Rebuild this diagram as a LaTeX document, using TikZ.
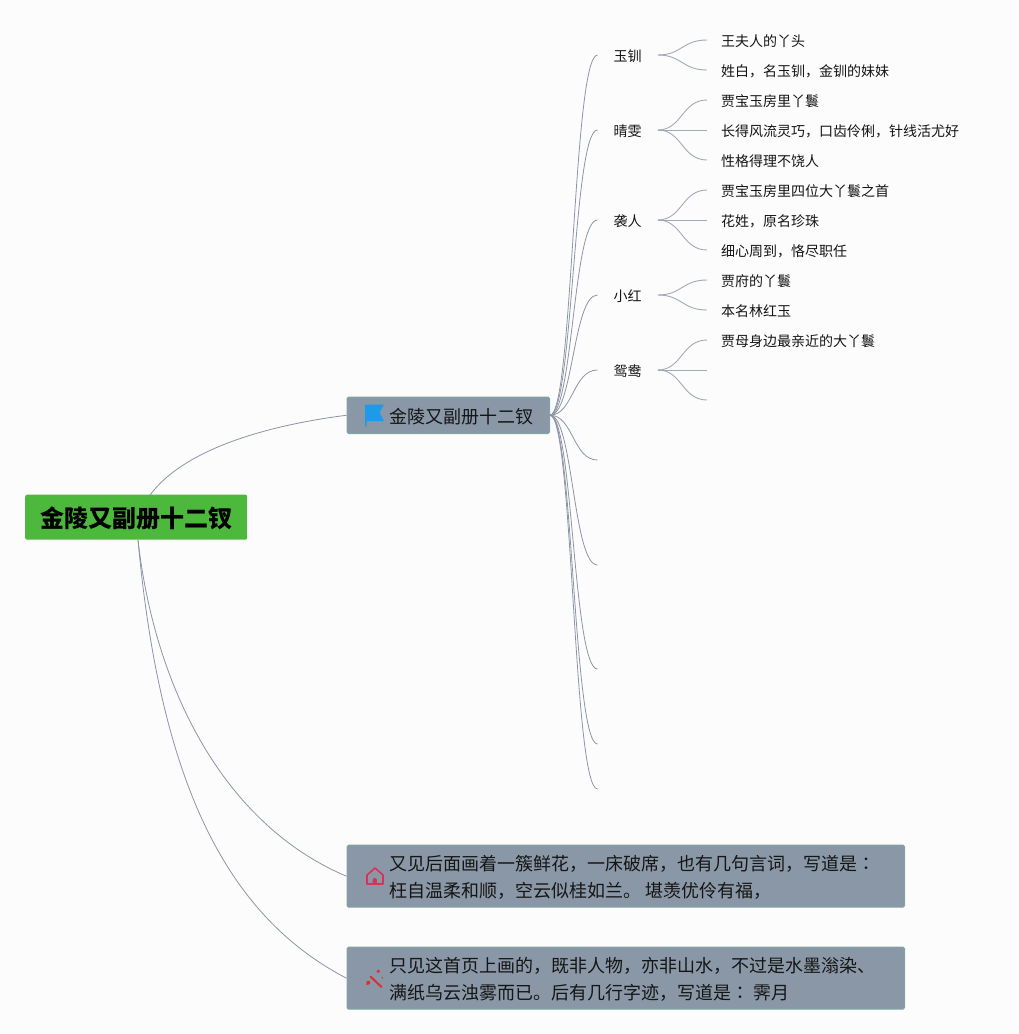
\documentclass[tikz,border=0pt]{standalone}
\usepackage{fontspec}
\setmainfont{Noto Sans CJK SC}
\newfontfamily\tcfont{Noto Sans CJK TC}
\definecolor{bgc}{HTML}{FCFCFD}
\definecolor{linec}{HTML}{8C95A3}
\definecolor{leaflinec}{HTML}{A3A9B5}
\definecolor{boxc}{HTML}{8997A6}
\definecolor{boxe}{HTML}{7FA6A4}
\definecolor{rootc}{HTML}{4DB93C}
\definecolor{flagc}{HTML}{1E9BE8}
\definecolor{housec}{HTML}{DC3058}
\definecolor{wandc}{HTML}{D9302E}
\definecolor{inkc}{HTML}{151515}
\tikzset{
  x=1pt,y=-1pt,
  link/.style={draw=linec,line width=0.8pt},
  leaflink/.style={draw=leaflinec,line width=0.9pt},
  rootbox/.style={fill=rootc,rounded corners=2pt,minimum width=222pt,minimum height=45pt,inner sep=0pt,anchor=north west,text height=21pt,text depth=1.2pt,font=\fontsize{24}{28}\selectfont\bfseries},
  branchbox/.style={fill=boxc,draw=boxe,line width=1pt,rounded corners=1.5pt,inner sep=0pt,anchor=north west,font=\fontsize{18}{28}\selectfont,text=inkc},
  person/.style={anchor=west,inner xsep=16pt,inner ysep=0pt,text height=13.5pt,text depth=0.3pt,text=inkc,font=\fontsize{14}{16}\selectfont},
  leaf/.style={anchor=west,inner xsep=14pt,inner ysep=0pt,text height=13.5pt,text depth=0.3pt,text=inkc,font=\fontsize{14}{16}\selectfont},
}
\newcommand{\btext}[2]{\hbox to 557pt{\hspace*{42.5pt}\vbox{\kern3pt\hsize=510pt\parindent=0pt\baselineskip=27pt\hbox{#1}\hbox{#2}}\hss}}
\begin{document}
\begin{tikzpicture}
\useasboundingbox (0,0) rectangle (1019,1034);
\fill[bgc] (0,0) rectangle (1019,1034);

% main nodes
\node[rootbox] (root) at (25,494.5) {金陵又副册十二钗};
\node[branchbox,minimum width=201.5pt,minimum height=36.5pt,text height=16.5pt,text depth=0.5pt] (b1) at (346.5,396.5) {\hspace*{42.5pt}金陵又副册十二钗\hspace*{16pt}};
\node[branchbox,minimum width=557.5pt,minimum height=62pt] (b2) at (346.5,844.7) {\btext{又见后面画着一簇鲜花，一床破席，也有几句言词，写道是{\tcfont ：}}{枉自温柔和顺，空云似桂如兰。 堪羡优伶有福，}};
\node[branchbox,minimum width=557.5pt,minimum height=62pt] (b3) at (346.5,946.7) {\btext{只见这首页上画的，既非人物，亦非山水，不过是水墨滃染、}{满纸乌云浊雾而已。后有几行字迹，写道是{\tcfont ：} 霁月}};

% persons
\node[person] (p1) at (597.5,55) {玉钏};
\node[person] (p2) at (597.5,130) {晴雯};
\node[person] (p3) at (597.5,220) {袭人};
\node[person] (p4) at (597.5,295) {小红};
\node[person] (p5) at (597.5,370) {鸳鸯};

% leaves
\node[leaf] (l1) at (707,40) {王夫人的丫头};
\node[leaf] (l2) at (707,70) {姓白，名玉钏，金钏的妹妹};
\node[leaf] (l3) at (707,100) {贾宝玉房里丫鬟};
\node[leaf] (l4) at (707,130) {长得风流灵巧，口齿伶俐，针线活尤好};
\node[leaf] (l5) at (707,160) {性格得理不饶人};
\node[leaf] (l6) at (707,190) {贾宝玉房里四位大丫鬟之首};
\node[leaf] (l7) at (707,220) {花姓，原名珍珠};
\node[leaf] (l8) at (707,250) {细心周到，恪尽职任};
\node[leaf] (l9) at (707,280) {贾府的丫鬟};
\node[leaf] (l10) at (707,310) {本名林红玉};
\node[leaf] (l11) at (707,340) {贾母身边最亲近的大丫鬟};

% free ends
\coordinate (e1) at (707,370);
\coordinate (e2) at (707,400);
\coordinate (f1) at (597.5,460);
\coordinate (f2) at (597.5,565);
\coordinate (f3) at (597.5,669);
\coordinate (f4) at (597.5,744);
\coordinate (f5) at (597.5,789);
\coordinate (rt) at (150,495);
\coordinate (rb) at (138,540);

% root links
\draw[link] (rt) .. controls (185,448) and (270,425) .. (b1.west);
\draw[link] (rb) .. controls (155,690) and (225,825) .. (b2.west);
\draw[link] (rb) .. controls (160,780) and (225,915) .. (b3.west);

% branch to persons
\draw[link] (b1.east) .. controls (573,415) and (573,55) .. (p1.west);
\draw[link] (b1.east) .. controls (573,415) and (573,130) .. (p2.west);
\draw[link] (b1.east) .. controls (573,415) and (573,220) .. (p3.west);
\draw[link] (b1.east) .. controls (573,415) and (573,295) .. (p4.west);
\draw[link] (b1.east) .. controls (573,415) and (573,370) .. (p5.west);
\draw[link] (b1.east) .. controls (573,415) and (573,460) .. (f1);
\draw[link] (b1.east) .. controls (573,415) and (573,565) .. (f2);
\draw[link] (b1.east) .. controls (573,415) and (573,669) .. (f3);
\draw[link] (b1.east) .. controls (573,415) and (573,744) .. (f4);
\draw[link] (b1.east) .. controls (573,415) and (573,789) .. (f5);

% persons to leaves
\draw[leaflink] (p1.east) .. controls (682,55) and (682,40) .. (l1.west);
\draw[leaflink] (p1.east) .. controls (682,55) and (682,70) .. (l2.west);
\draw[leaflink] (p2.east) .. controls (682,130) and (682,100) .. (l3.west);
\draw[leaflink] (p2.east) -- (l4.west);
\draw[leaflink] (p2.east) .. controls (682,130) and (682,160) .. (l5.west);
\draw[leaflink] (p3.east) .. controls (682,220) and (682,190) .. (l6.west);
\draw[leaflink] (p3.east) -- (l7.west);
\draw[leaflink] (p3.east) .. controls (682,220) and (682,250) .. (l8.west);
\draw[leaflink] (p4.east) .. controls (682,295) and (682,280) .. (l9.west);
\draw[leaflink] (p4.east) .. controls (682,295) and (682,310) .. (l10.west);
\draw[leaflink] (p5.east) .. controls (682,370) and (682,340) .. (l11.west);
\draw[leaflink] (p5.east) -- (e1);
\draw[leaflink] (p5.east) .. controls (682,370) and (682,400) .. (e2);

% icons
\fill[flagc] (365,404.5) -- (384,404.5) -- (379.5,412.5) -- (384,421) -- (366.5,421) -- (366.5,426.5) -- (365,426.5) -- cycle;
\draw[housec,line width=1.6pt,line join=round] (367,884) -- (367,875) -- (375,868) -- (383,875) -- (383,884) -- cycle;
\fill[housec] (372.7,884) -- (372.7,880) arc[start angle=180,end angle=360,radius=2.1] -- (376.9,884) -- cycle;
\draw[wandc,line width=2pt,line cap=round] (370.5,976.5) -- (381.5,987);
\draw[wandc,line width=1pt,line cap=round] (366.7,984.7) -- (368.3,982.7);
\fill[wandc] (378.3,971.3) circle[radius=1.8] (368.3,982.7) circle[radius=2] (382.3,977.7) circle[radius=0.8];
\end{tikzpicture}
\end{document}
